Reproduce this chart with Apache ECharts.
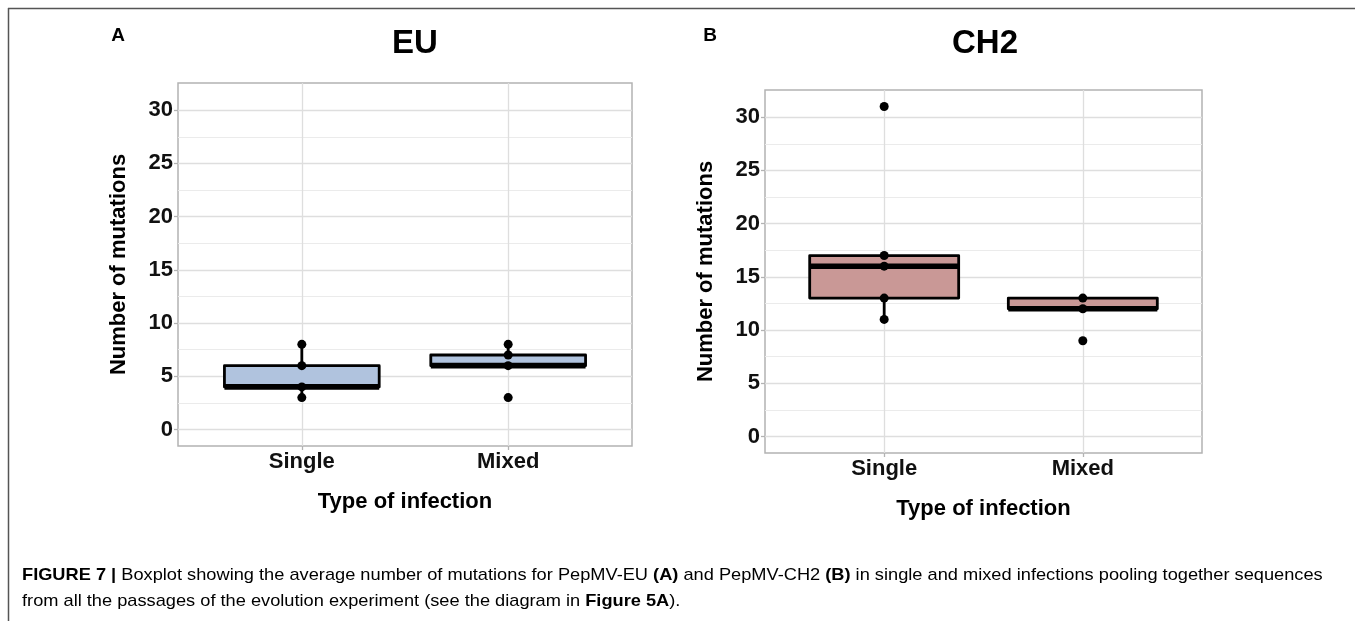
<!DOCTYPE html>
<html>
<head>
<meta charset="utf-8">
<script src="https://cdn.jsdelivr.net/npm/echarts@6/dist/echarts.min.js"></script>
<style>
  html, body { margin: 0; padding: 0; background: #fff; }
  #chart { width: 1355px; height: 621px; }
</style>
</head>
<body>
<div id="chart"></div>
<script>
// Infection types on the x axis
const categories = ['Single', 'Mixed'];

// Y axis: labelled ticks and the minor grid between them
const yTicks = [0, 5, 10, 15, 20, 25, 30];
const yMinorGrid = [2.5, 7.5, 12.5, 17.5, 22.5, 27.5];

// Box statistics per category: [lower whisker, Q1, median, Q3, upper whisker]
const euBoxStats = [
  [3, 4, 4, 6, 8],
  [6, 6, 6, 7, 8]
];
const ch2BoxStats = [
  [11, 13, 16, 17, 17],
  [12, 12, 12, 13, 13]
];

// Observed mutation counts
const euSinglePoints = [3, 4, 6, 8];
const euMixedPoints = [3, 6, 7, 8];
const ch2SinglePoints = [11, 13, 16, 17, 31];
const ch2MixedPoints = [9, 12, 13];

const euFill = '#B0C3DE';
const ch2Fill = '#C99896';

const BOLD = 'bold';
const FONT = 'Liberation Sans, Arial, sans-serif';

function boxRenderer(fill) {
  return function (params, api) {
    const x = api.value(0);
    const lo = api.value(1), q1 = api.value(2), med = api.value(3), q3 = api.value(4), hi = api.value(5);
    const half = 0.375;
    const tl = api.coord([x - half, q3]);
    const br = api.coord([x + half, q1]);
    const mL = api.coord([x - half, med]);
    const mR = api.coord([x + half, med]);
    const pHi = api.coord([x, hi]);
    const pQ3 = api.coord([x, q3]);
    const pQ1 = api.coord([x, q1]);
    const pLo = api.coord([x, lo]);
    const stroke = { stroke: '#000', lineWidth: 2.8 };
    return {
      type: 'group',
      children: [
        { type: 'line', shape: { x1: pQ3[0], y1: pQ3[1], x2: pHi[0], y2: pHi[1] }, style: stroke },
        { type: 'line', shape: { x1: pQ1[0], y1: pQ1[1], x2: pLo[0], y2: pLo[1] }, style: stroke },
        {
          type: 'rect',
          shape: { x: tl[0], y: tl[1], width: br[0] - tl[0], height: br[1] - tl[1] },
          style: { fill: fill, stroke: '#000', lineWidth: 2.8, lineJoin: 'round' }
        },
        { type: 'line', shape: { x1: mL[0], y1: mL[1], x2: mR[0], y2: mR[1] }, style: { stroke: '#000', lineWidth: 5.6 } }
      ]
    };
  };
}

function boxData(stats) {
  return stats.map((s, i) => [i + 1].concat(s));
}

function pointData(values, xIndex) {
  return values.map(v => [xIndex, v]);
}

function gridLines() {
  const major = yTicks.map(v => ({ yAxis: v, lineStyle: { color: '#DEDEDE', width: 1.3, type: 'solid' } }));
  const minor = yMinorGrid.map(v => ({ yAxis: v, lineStyle: { color: '#EBEBEB', width: 1, type: 'solid' } }));
  const vert = categories.map((c, i) => ({ xAxis: i + 1, lineStyle: { color: '#DEDEDE', width: 1.3, type: 'solid' } }));
  return minor.concat(major, vert);
}

function xAxisFor(gridIndex) {
  return {
    type: 'value', gridIndex: gridIndex, min: 0.4, max: 2.6, position: 'bottom',
    axisLine: { show: false, onZero: false },
    splitLine: { show: false },
    axisTick: { show: true, customValues: [1, 2], length: 4, lineStyle: { color: '#B3B3B3', width: 1.3 } },
    axisLabel: {
      customValues: [1, 2], margin: 5,
      formatter: v => categories[Math.round(v) - 1] || '',
      color: '#111', fontWeight: BOLD, fontSize: 22, fontFamily: FONT
    },
    name: 'Type of infection', nameLocation: 'middle', nameGap: 45,
    nameTextStyle: { color: '#000', fontWeight: BOLD, fontSize: 22, fontFamily: FONT }
  };
}

function yAxisFor(gridIndex) {
  return {
    type: 'value', gridIndex: gridIndex, min: -1.55, max: 32.55, position: 'left',
    axisLine: { show: false, onZero: false },
    splitLine: { show: false },
    axisTick: { show: true, customValues: yTicks, length: 4, lineStyle: { color: '#B3B3B3', width: 1.3 } },
    axisLabel: {
      customValues: yTicks, margin: 5,
      color: '#111', fontWeight: BOLD, fontSize: 22, fontFamily: FONT
    },
    name: 'Number of mutations', nameLocation: 'middle', nameGap: 48, nameRotate: 90,
    nameTextStyle: { color: '#000', fontWeight: BOLD, fontSize: 22, fontFamily: FONT }
  };
}

function panelSeries(idx, stats, pointsA, pointsB, fill) {
  return [
    {
      type: 'line', xAxisIndex: idx, yAxisIndex: idx, data: [], z: 0, silent: true,
      markLine: { silent: true, z: 0, symbol: 'none', label: { show: false }, animation: false, data: gridLines() }
    },
    {
      type: 'custom', xAxisIndex: idx, yAxisIndex: idx, z: 3,
      renderItem: boxRenderer(fill), data: boxData(stats)
    },
    {
      type: 'scatter', xAxisIndex: idx, yAxisIndex: idx, z: 4, symbol: 'circle', symbolSize: 9,
      itemStyle: { color: '#000', borderWidth: 0, opacity: 1 },
      data: pointData(pointsA, 1).concat(pointData(pointsB, 2))
    }
  ];
}

const capNormal = { fontFamily: FONT, fontSize: 17, color: '#222' };
const capBold = Object.assign({}, capNormal, { fontWeight: 'bold' });

const chart = echarts.init(document.getElementById('chart'), null, { renderer: 'canvas' });
chart.setOption({
  animation: false,
  backgroundColor: '#fff',
  grid: [
    { left: 178, top: 83, width: 454, height: 363, show: true, borderColor: '#B3B3B3', borderWidth: 1.5, backgroundColor: 'transparent' },
    { left: 765, top: 90, width: 437, height: 363, show: true, borderColor: '#B3B3B3', borderWidth: 1.5, backgroundColor: 'transparent' }
  ],
  xAxis: [xAxisFor(0), xAxisFor(1)],
  yAxis: [yAxisFor(0), yAxisFor(1)],
  series: panelSeries(0, euBoxStats, euSinglePoints, euMixedPoints, euFill)
    .concat(panelSeries(1, ch2BoxStats, ch2SinglePoints, ch2MixedPoints, ch2Fill)),
  graphic: [
    // figure frame
    { type: 'line', shape: { x1: 8, y1: 8.5, x2: 1355, y2: 8.5 }, style: { stroke: '#555', lineWidth: 1.5 } },
    { type: 'line', shape: { x1: 8.5, y1: 8, x2: 8.5, y2: 621 }, style: { stroke: '#555', lineWidth: 1.5 } },
    // panel letters and titles
    { type: 'text', x: 118, y: 36, style: { text: 'A', fontFamily: FONT, fontWeight: BOLD, fontSize: 19, fill: '#000', align: 'center', verticalAlign: 'middle' } },
    { type: 'text', x: 710, y: 36, style: { text: 'B', fontFamily: FONT, fontWeight: BOLD, fontSize: 19, fill: '#000', align: 'center', verticalAlign: 'middle' } },
    { type: 'text', x: 415, y: 44, style: { text: 'EU', fontFamily: FONT, fontWeight: BOLD, fontSize: 33, fill: '#000', align: 'center', verticalAlign: 'middle' } },
    { type: 'text', x: 985, y: 44, style: { text: 'CH2', fontFamily: FONT, fontWeight: BOLD, fontSize: 33, fill: '#000', align: 'center', verticalAlign: 'middle' } },
    // caption, slightly stretched to the column width
    {
      type: 'text', x: 22, y: 575, scaleX: 1.072,
      style: {
        text: '{b|FIGURE 7 |}{n| Boxplot showing the average number of mutations for PepMV-EU }{b|(A)}{n| and PepMV-CH2 }{b|(B)}{n| in single and mixed infections pooling together sequences}',
        verticalAlign: 'middle', rich: { n: capNormal, b: capBold }
      }
    },
    {
      type: 'text', x: 22, y: 601, scaleX: 1.072,
      style: {
        text: '{n|from all the passages of the evolution experiment (see the diagram in }{b|Figure 5A}{n|).}',
        verticalAlign: 'middle', rich: { n: capNormal, b: capBold }
      }
    }
  ]
});
</script>
</body>
</html>
